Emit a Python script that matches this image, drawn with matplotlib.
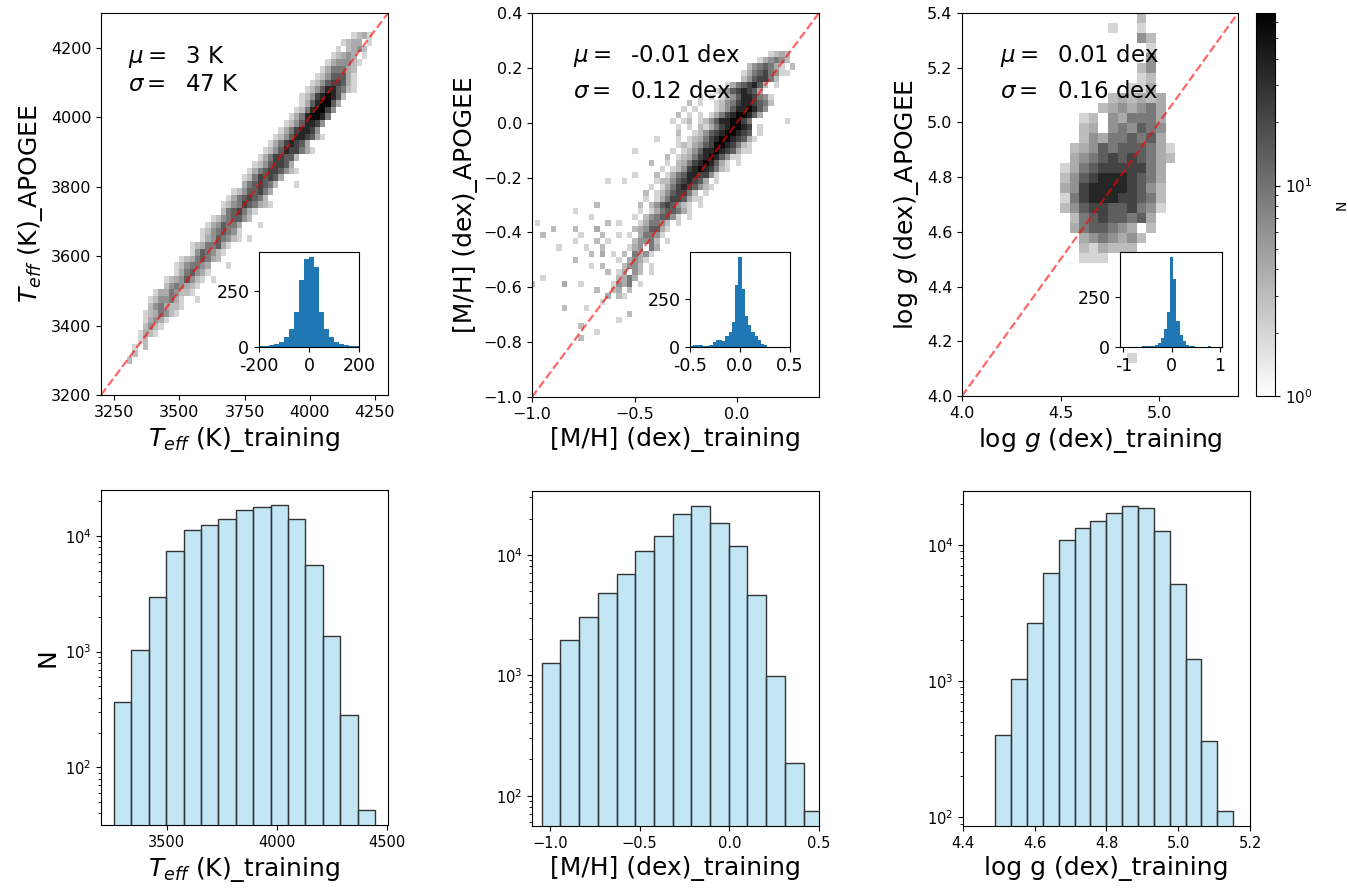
import numpy as np
import matplotlib
matplotlib.use('Agg')
import matplotlib.pyplot as plt
from matplotlib.colors import LogNorm

# ---- 2D histogram cells: (row, first column, levels), '.' = empty cell
LEVEL_COUNTS = {'1': 2, '2': 3, '3': 4, '4': 6, '5': 9, '6': 14, '7': 22, '8': 35, '9': 58}

teff_xedges = 3260 + 20.0 * np.arange(51)
teff_yedges = 3270 + 19.5 * np.arange(51)
teff_cells = [
    (1, 2, "2"), (2, 3, "2"), (3, 2, ".1.2"), (4, 2, "..12"), (5, 1, "...1321"),
    (6, 2, "...2421"), (7, 3, "..13431"), (8, 4, ".1235421"), (9, 5, ".2453221"),
    (10, 6, "1244531..1"), (11, 7, "13354221"), (12, 8, ".2454321"),
    (13, 9, "12346421.1"), (14, 10, ".1356431"), (15, 11, "1245543...1"),
    (16, 12, "12356532"), (17, 13, ".1465421"), (18, 14, "12355631"),
    (19, 15, ".13465421.1"), (20, 16, "12456541"), (21, 17, "1346553...1"),
    (22, 18, "12456642"), (23, 19, ".2567531"), (24, 20, "1245765321"),
    (25, 21, "13567652"), (26, 22, "12466753"), (27, 23, ".3567652...1"),
    (28, 24, "12576763"), (29, 25, "1356776421"), (30, 26, "12467763"),
    (31, 27, "13577662"), (32, 28, "1246877531"), (33, 29, "13578763"),
    (34, 30, "1246887631"), (35, 31, "13578874"), (36, 32, "12468874"),
    (37, 33, "13589985"), (38, 34, "12589974"), (39, 34, ".13689963"),
    (40, 35, "124789862"), (41, 36, "1246886521"), (42, 37, "124677631"),
    (43, 38, "12466631"), (44, 39, "1355532"), (45, 40, "1344421"),
    (46, 41, "12343.1"), (47, 42, "1.2342"), (48, 43, "1233.1"), (49, 45, "1231"),
]

mh_xedges = -1.04 + 0.0265 * np.arange(51)
mh_yedges = -0.84 + 0.022 * np.arange(51)
mh_cells = [
    (2, 10, "2"), (3, 13, "1"), (4, 10, "2"), (5, 17, "1"), (6, 19, "2"),
    (7, 7, "2...1"), (8, 14, "1"), (9, 15, "3.21"), (10, 13, "2..23.2"),
    (11, 1, "2"), (11, 7, "3"), (11, 10, "1"), (11, 16, "1435.1"),
    (12, 3, "1"), (12, 17, "2353"), (13, 15, "2.13.42.1"),
    (14, 12, "1.2"), (14, 18, "2442.1"), (15, 9, "2"), (15, 17, "1.3431"),
    (16, 12, "2.3.1"), (16, 18, "2.5341"), (17, 6, "1"), (17, 11, "1..2"),
    (17, 19, "134.53"), (18, 9, "1...2.1"), (18, 20, "24452.1"),
    (19, 3, "2"), (19, 10, "1...2..1"), (19, 19, "1.35541"),
    (20, 5, "2...2...3"), (20, 20, "2346631"), (21, 2, "1"), (21, 15, "2.1"),
    (21, 21, "135542.1"), (22, 12, "1"), (22, 20, "1.2456641.1"),
    (23, 9, "1"), (23, 21, "1.13566531"), (24, 13, "2"), (24, 21, "2.24676421.1"),
    (25, 22, "1.135776311"), (26, 22, "2.12467752.1"), (27, 23, "1.1357876421"),
    (28, 15, "1..1"), (28, 24, "1224678763.1"), (29, 20, "1"),
    (29, 24, "2.1356887741"), (30, 25, "1.12478987521"), (31, 23, "2"),
    (31, 26, "1.2357898631.1"), (32, 26, "2.123578986411"), (33, 20, "1"),
    (33, 27, "1.1246889876311"), (34, 28, "12134679987521"), (35, 24, "1"),
    (35, 28, "1.1235789987631"), (36, 28, "2..12467899876.1"),
    (37, 28, "1.1.2135789987.1"), (38, 27, "1.12.1246889975"), (38, 48, "1"),
    (39, 28, "2.1.1.1357899863"), (40, 29, "1.1...1246889864"),
    (41, 30, "2.1..12457887652"), (42, 32, "1.1.1346887541"),
    (43, 35, "124678763"), (44, 37, "13567862.1"), (45, 40, "2467752"),
    (46, 40, "135675411"), (47, 41, "2456531.2"), (48, 43, "134542"),
    (49, 45, "1232"),
]

logg_xedges = 4.497 + 0.0487 * np.arange(13)
logg_yedges = 4.12 + 0.03657 * np.arange(36)
logg_cells = [
    (0, 7, "1"), (10, 2, "111"), (11, 2, "213222"), (12, 2, "3454342"),
    (13, 1, "3566543.2"), (14, 1, "256766563"), (15, 0, "24677667541"),
    (16, 0, "15788877652"), (17, 0, "34788887642"), (18, 0, "24678887653"),
    (19, 0, "13567777753"), (20, 1, "34567676532"), (21, 1, "23465666531"),
    (22, 2, "243556563"), (23, 2, "23.454654"), (24, 2, "12.435553"),
    (25, 4, "2343453"), (26, 5, "232323"), (27, 7, "113"), (28, 8, "12"),
    (29, 8, "24"), (30, 9, "4"), (31, 9, "1"), (32, 8, "42"), (33, 5, "1..1"),
    (34, 8, "2"),
]

# ---- residual histograms (APOGEE - training)
teff_res_edges = np.linspace(-200, 200, 21)
teff_res_counts = [3, 4, 7, 12, 22, 45, 82, 156, 298, 394,
                   404, 357, 156, 82, 45, 22, 12, 7, 4, 3]
mh_res_edges = np.linspace(-0.5, 0.5, 32)
mh_res_counts = [5, 8, 12, 10, 6, 6, 10, 25, 35, 35, 30, 55, 80, 130, 320, 470,
                 300, 160, 115, 80, 55, 35, 18, 8, 2, 0, 0, 0, 0, 0, 0]
logg_res_edges = np.linspace(-1, 1, 32)
logg_res_counts = [0, 0, 1, 0, 1, 2, 3, 4, 5, 7, 10, 20, 45, 90, 175, 452,
                   340, 130, 60, 30, 12, 5, 3, 2, 1, 1, 1, 4, 1, 0, 0]

# ---- training-set distributions
teff_train_edges = 3261 + 79.0 * np.arange(16)
teff_train_counts = [370, 1023, 2943, 7460, 11350, 12540, 14130, 16680,
                     17810, 18420, 14130, 5570, 1378, 285, 43]
mh_train_edges = -1.046 + 0.1043 * np.arange(16)
mh_train_counts = [1265, 1957, 3027, 4850, 6950, 10660, 14200, 21800,
                   25300, 18380, 11890, 4640, 981, 187, 75]
logg_train_edges = 4.49 + 0.0442 * np.arange(16)
logg_train_counts = [401, 1035, 2686, 6250, 10880, 13270, 15000, 17100,
                     19130, 18710, 12670, 5140, 1452, 362, 112]

W, H = 1348, 888


def px(left, top, right, bottom):
    return [left / W, 1 - bottom / H, (right - left) / W, (bottom - top) / H]


def fill_grid(cells, xedges, yedges):
    grid = np.full((len(yedges) - 1, len(xedges) - 1), np.nan)
    for row, start, levels in cells:
        for k, ch in enumerate(levels):
            if ch != '.':
                grid[row, start + k] = LEVEL_COUNTS[ch]
    return np.ma.masked_invalid(grid)


fig = plt.figure(figsize=(W / 100, H / 100), dpi=100)
norm = LogNorm(vmin=1, vmax=66)

top = [
    dict(rect=px(101, 13, 388, 395), inset=px(259, 252, 359, 347),
         cells=teff_cells, xe=teff_xedges, ye=teff_yedges, lim=(3200, 4300),
         xticks=[3250, 3500, 3750, 4000, 4250],
         res=(teff_res_edges, teff_res_counts), rticks=[-200, 0, 200],
         rlim=(-200, 200),
         xlabel=r'$T_{eff}$ (K)_training', ylabel=r'$T_{eff}$ (K)_APOGEE',
         text=(r'$\mu=$  3 K', r'$\sigma=$  47 K'), tx=0.094, ty=(0.885, 0.812)),
    dict(rect=px(532, 13, 819, 397), inset=px(690, 252, 790, 347),
         cells=mh_cells, xe=mh_xedges, ye=mh_yedges, lim=(-1.0, 0.4),
         xticks=[-1.0, -0.5, 0.0],
         res=(mh_res_edges, mh_res_counts), rticks=[-0.5, 0.0, 0.5],
         rlim=(-0.5, 0.5),
         xlabel='[M/H] (dex)_training', ylabel='[M/H] (dex)_APOGEE',
         text=(r'$\mu=$  -0.01 dex', r'$\sigma=$  0.12 dex'), tx=0.143, ty=(0.89, 0.795)),
    dict(rect=px(962, 13, 1238, 396), inset=px(1120, 252, 1222, 347),
         cells=logg_cells, xe=logg_xedges, ye=logg_yedges, lim=(4.0, 5.4),
         xticks=[4.0, 4.5, 5.0],
         res=(logg_res_edges, logg_res_counts), rticks=[-1, 0, 1],
         rlim=(-1.07, 1.04),
         xlabel=r'log $g$ (dex)_training', ylabel=r'log $g$ (dex)_APOGEE',
         text=(r'$\mu=$  0.01 dex', r'$\sigma=$  0.16 dex'), tx=0.138, ty=(0.89, 0.795)),
]

mesh = None
for p in top:
    ax = fig.add_axes(p['rect'])
    mesh = ax.pcolormesh(p['xe'], p['ye'], fill_grid(p['cells'], p['xe'], p['ye']),
                         cmap='gray_r', norm=norm)
    lo, hi = p['lim']
    ax.plot([lo, hi], [lo, hi], '--', color='red', alpha=0.6, lw=1.6)
    ax.set_xlim(lo, hi)
    ax.set_ylim(lo, hi)
    ax.set_xticks(p['xticks'])
    ax.tick_params(labelsize=11.5)
    ax.set_xlabel(p['xlabel'], fontsize=18)
    ax.set_ylabel(p['ylabel'], fontsize=18)
    ax.text(p['tx'], p['ty'][0], p['text'][0], transform=ax.transAxes,
            fontsize=16.5, va='center')
    ax.text(p['tx'], p['ty'][1], p['text'][1], transform=ax.transAxes,
            fontsize=16.5, va='center')

    ins = fig.add_axes(p['inset'])
    edges, counts = p['res']
    ins.hist(edges[:-1], bins=edges, weights=counts, color='#1f77b4')
    ins.set_xlim(*p['rlim'])
    ins.set_xticks(p['rticks'])
    ins.set_xticklabels([str(t) for t in p['rticks']])
    ins.set_yticks([0, 250])
    ins.tick_params(labelsize=12.5)

cax = fig.add_axes(px(1256, 13, 1275, 396))
cb = fig.colorbar(mesh, cax=cax)
cb.set_label('N', fontsize=10, labelpad=16)
cb.ax.tick_params(labelsize=11)

bottom = [
    (px(101, 490, 388, 825), teff_train_edges, teff_train_counts,
     r'$T_{eff}$ (K)_training', (3202, 4505), [3500, 4000, 4500]),
    (px(532, 491, 819, 826), mh_train_edges, mh_train_counts,
     '[M/H] (dex)_training', (-1.1, 0.5), [-1.0, -0.5, 0.0, 0.5]),
    (px(963, 491, 1250, 826), logg_train_edges, logg_train_counts,
     'log g (dex)_training', (4.4, 5.2), [4.4, 4.6, 4.8, 5.0, 5.2]),
]

for i, (rect, edges, counts, xlabel, xlim, xticks) in enumerate(bottom):
    ax = fig.add_axes(rect)
    ax.hist(edges[:-1], bins=edges, weights=counts, log=True,
            facecolor=(135 / 255, 206 / 255, 235 / 255, 0.5),
            edgecolor='#333333', linewidth=1.0)
    ax.set_xlim(*xlim)
    ax.set_xticks(xticks)
    ax.tick_params(labelsize=10.5)
    ax.set_xlabel(xlabel, fontsize=18)
    if i == 0:
        ax.set_ylabel('N', fontsize=18)

fig.savefig('out.png', dpi=100)
